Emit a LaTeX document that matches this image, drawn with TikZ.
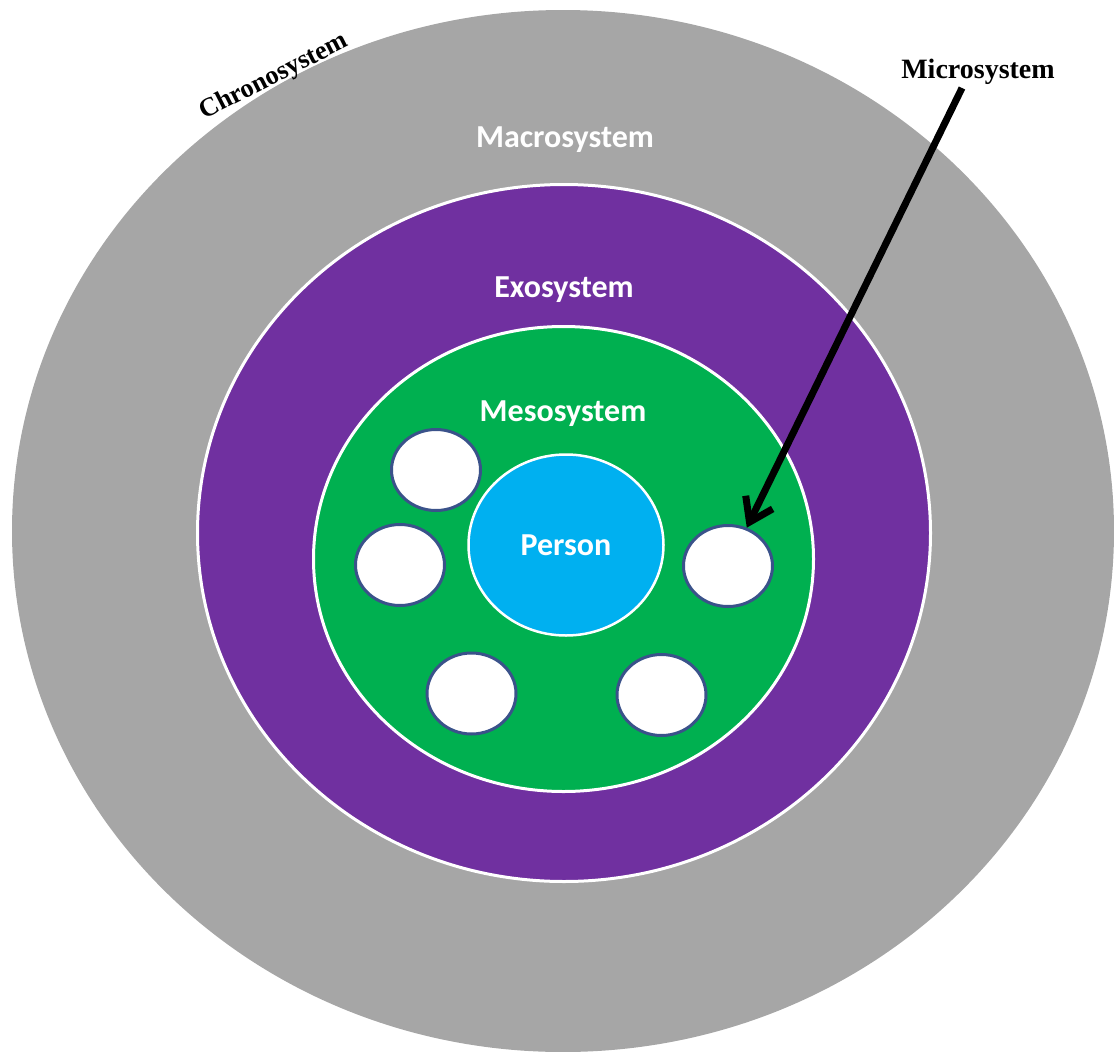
\documentclass[tikz,border=0pt]{standalone}
\usepackage{fontspec}
\setmainfont{Liberation Serif}
\newfontfamily\labelfont{Carlito}
\usetikzlibrary{shapes.geometric,arrows.meta}

\definecolor{chronogray}{HTML}{A6A6A6}
\definecolor{exopurple}{HTML}{7030A0}
\definecolor{mesogreen}{HTML}{00B050}
\definecolor{personblue}{HTML}{00B0F0}
\definecolor{microborder}{HTML}{3A528A}

\begin{document}
\begin{tikzpicture}[x=1pt,y=-1pt,
  ring/.style={ellipse, draw=white, line width=3pt, inner sep=0pt},
  microcircle/.style={ellipse, draw=microborder, fill=white, line width=3pt,
    inner sep=0pt, minimum width=89pt, minimum height=81pt},
  syslabel/.style={text=white, font=\labelfont\bfseries\fontsize{32}{36}\selectfont,
    anchor=base, inner sep=0pt},
  serifbold/.style={font=\bfseries\fontsize{#1}{#1}\selectfont, inner sep=0pt},
]
\useasboundingbox (0,0) rectangle (1114,1052);

% nested systems
\node[ellipse, fill=chronogray, inner sep=0pt,
  minimum width=1102pt, minimum height=1042pt] (chrono) at (563,531) {};
\node[ring, fill=exopurple, minimum width=733pt, minimum height=697pt] (exo) at (564,533) {};
\node[ring, fill=mesogreen, minimum width=500pt, minimum height=465pt] (meso) at (563.5,559) {};
\node[ring, fill=personblue, line width=2.5pt,
  minimum width=195pt, minimum height=181pt] (person) at (566,545) {};

% microsystems
\node[microcircle] (m1) at (436,470) {};
\node[microcircle] (m2) at (400,565) {};
\node[microcircle] (m3) at (471.5,693.5) {};
\node[microcircle] (m4) at (661.5,695) {};
\node[microcircle] (m5) at (728,566) {};

% labels
\node[syslabel] (macro-label) at (565,147) {Macrosystem};
\node[syslabel] (exo-label) at (564,297) {Exosystem};
\node[syslabel] (meso-label) at (563,421) {Mesosystem};
\node[syslabel] (person-label) at (566,555) {Person};

\node[serifbold=28, anchor=base] (micro-label) at (978,78) {Microsystem};
\node[serifbold=26.5, rotate=27] (chrono-label) at (274,77) {Chronosystem};

% pointer to a microsystem
\coordinate (arrow-start) at (962,88);
\draw[line width=7pt, -{Straight Barb[length=22pt,width=30pt]}]
  (arrow-start) -- (m5);
\end{tikzpicture}
\end{document}
